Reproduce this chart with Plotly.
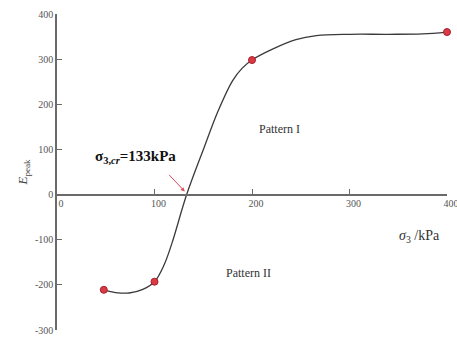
import plotly.graph_objects as go

# Measured points
sigma3 = [48, 100, 200, 400]
e_peak = [-211, -193, 298, 360]

# Fitted trend curve
fit_x = [48, 60, 74, 88, 100, 110, 118, 133, 151, 165, 180, 190, 200, 221, 245, 266, 300, 340, 375, 400]
fit_y = [-211, -217, -218, -210, -193, -155, -107, 0, 105, 184, 252, 280, 298, 322, 343, 352, 355, 355, 356, 360]

x_ticks = [0, 100, 200, 300, 400]
y_ticks = [-300, -200, -100, 0, 100, 200, 300, 400]

serif = "Liberation Serif, Times New Roman, serif"
axis_col = "#6a6a6a"

fig = go.Figure()
fig.add_trace(go.Scatter(
    x=fit_x, y=fit_y, mode="lines",
    line=dict(color="#3a3a3a", width=1.3, shape="spline", smoothing=1.0),
    hoverinfo="skip", showlegend=False))
fig.add_trace(go.Scatter(
    x=sigma3, y=e_peak, mode="markers",
    marker=dict(color="#d93a45", size=7, line=dict(color="#a8202c", width=1)),
    cliponaxis=False, showlegend=False))

fig.update_layout(
    width=457, height=337,
    margin=dict(l=57, r=10, t=14, b=7, autoexpand=False),
    paper_bgcolor="white", plot_bgcolor="white",
    font=dict(family=serif, color="#555555", size=10),
    xaxis=dict(
        range=[0, 400], tickvals=x_ticks, ticktext=[str(v) for v in x_ticks],
        anchor="free", position=300 / 700, automargin=False,
        showline=True, linecolor=axis_col, linewidth=1.5,
        ticks="inside", ticklen=5, tickcolor=axis_col, tickwidth=1,
        ticklabelshift=4, ticklabeloverflow="allow",
        showgrid=False, zeroline=False,
        tickfont=dict(family=serif, size=10, color="#555555"),
    ),
    yaxis=dict(
        range=[-300, 400], tickvals=y_ticks, ticktext=[str(v) for v in y_ticks],
        automargin=False, ticklabeloverflow="allow",
        showline=True, linecolor=axis_col, linewidth=1.5,
        ticks="inside", ticklen=5, tickcolor=axis_col, tickwidth=1,
        showgrid=False, zeroline=False,
        tickfont=dict(family=serif, size=10, color="#555555"),
        title=dict(text="<i>E</i><sub>peak</sub>", standoff=4,
                   font=dict(family=serif, size=13, color="#444444")),
    ),
    annotations=[
        dict(x=131, y=7, xref="x", yref="y", text="", showarrow=True,
             ax=-17, ay=-18, arrowhead=2, arrowsize=0.8, arrowwidth=1,
             arrowcolor="#e04a55"),
        dict(x=81, y=84, xref="x", yref="y",
             text="<b>σ<sub>3,<i>cr</i></sub>=133kPa</b>", showarrow=False,
             font=dict(family=serif, size=15, color="#111111")),
        dict(x=228, y=146, xref="x", yref="y", text="Pattern I", showarrow=False,
             font=dict(family=serif, size=12, color="#333333")),
        dict(x=196, y=-173, xref="x", yref="y", text="Pattern II", showarrow=False,
             font=dict(family=serif, size=12, color="#333333")),
        dict(x=372, y=-93, xref="x", yref="y",
             text="<i>σ</i><sub>3</sub> /kPa", showarrow=False,
             font=dict(family=serif, size=14, color="#333333")),
    ],
)

fig.write_html("out.html")
